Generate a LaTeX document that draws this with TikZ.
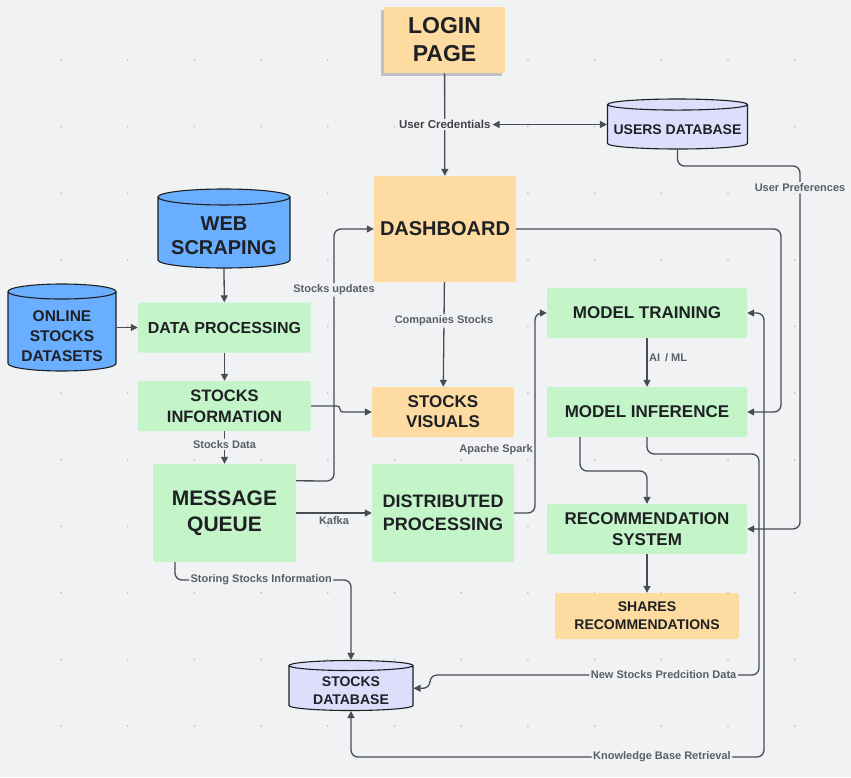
\documentclass[tikz,border=0pt]{standalone}
\usepackage{fontspec}
\setmainfont{Liberation Sans}
\usetikzlibrary{shapes.geometric,arrows.meta,shadows}
\definecolor{bg}{HTML}{F1F2F4}
\definecolor{sand}{HTML}{FEDBA1}
\definecolor{mint}{HTML}{C4F5C9}
\definecolor{sky}{HTML}{69AEFF}
\definecolor{lav}{HTML}{DDDDFC}
\definecolor{ink}{HTML}{1E2024}
\definecolor{wirec}{HTML}{474C55}
\definecolor{lblc}{HTML}{5A5F67}
\definecolor{dotc}{HTML}{B9BCC2}
\begin{document}
\begin{tikzpicture}[x=1pt, y=-1pt, >={Triangle[length=7pt,width=7pt]},
	box/.style = {rectangle, rounded corners=2pt, inner sep=0pt, align=center, text=ink},
	note/.style = {box, fill=sand},
	proc/.style = {box, fill=mint},
	db/.style = {cylinder, shape border rotate=90, draw=ink, line width=1.1pt, inner sep=0pt, anchor=shape center},
	dbtext/.style = {inner sep=0pt, align=center, text=ink},
	fs/.style 2 args = {font=\fontsize{#1}{#2}\selectfont\bfseries},
	lbl/.style = {font=\fontsize{11}{13}\selectfont\bfseries, text=lblc, inner sep=1.5pt},
	wire/.style = {draw=wirec, line width=1.3pt, rounded corners=7pt, ->}]
		\useasboundingbox (0,0) rectangle (851,777);
		\fill[bg] (0,0) rectangle (851,777);
		\foreach \i in {0,...,11}
			\foreach \j in {0,...,10}
				\fill[dotc] ({61+66.7*\i},{60+66.6*\j}) circle (0.9pt);

		\node[note, fs={23}{28}, minimum width=121pt, minimum height=66pt, rounded corners=0pt, drop shadow={shadow xshift=-3pt, shadow yshift=-3pt, opacity=0.2, fill=black}] (login) at (444.5,40) {LOGIN\\PAGE};
		\node[db, fill=lav, text width=140pt, minimum height=50pt, aspect=0.079] (users) at (677.5,124) {};
		\node[dbtext, fs={14}{17}] (usersT) at ([yshift=-6pt]users.shape center) {USERS DATABASE};
		\node[note, fs={20}{24}, minimum width=142pt, minimum height=106pt] (dash) at (445,229) {DASHBOARD};
		\node[db, fill=sky, text width=132pt, minimum height=79pt, aspect=0.121] (web) at (224,228.5) {};
		\node[dbtext, fs={20}{24}] (webT) at ([yshift=-7pt]web.shape center) {WEB\\SCRAPING};
		\node[db, fill=sky, text width=108pt, minimum height=87pt, aspect=0.139] (online) at (62,327.5) {};
		\node[dbtext, fs={15.5}{20}] (onlineT) at ([yshift=-8.5pt]online.shape center) {ONLINE\\STOCKS\\DATASETS};
		\node[proc, fs={16}{20}, minimum width=173pt, minimum height=50pt] (dataproc) at (224.5,327.5) {DATA PROCESSING};
		\node[proc, fs={16.5}{21}, minimum width=173pt, minimum height=50pt] (stinfo) at (224.5,406) {STOCKS\\INFORMATION};
		\node[proc, fs={21}{26}, minimum width=143pt, minimum height=98pt] (queue) at (224.5,513) {MESSAGE\\QUEUE};
		\node[note, fs={17}{20}, minimum width=142pt, minimum height=50pt] (visuals) at (443,412) {STOCKS\\VISUALS};
		\node[proc, fs={18}{23}, minimum width=142pt, minimum height=98pt] (dist) at (443,513) {DISTRIBUTED\\PROCESSING};
		\node[proc, fs={17}{21}, minimum width=200pt, minimum height=50pt] (train) at (647,313) {MODEL TRAINING};
		\node[proc, fs={17}{21}, minimum width=200pt, minimum height=50pt] (infer) at (647,412) {MODEL INFERENCE};
		\node[proc, fs={17}{21}, minimum width=200pt, minimum height=50pt] (recsys) at (647,529) {RECOMMENDATION\\SYSTEM};
		\node[note, fs={14}{18}, minimum width=184pt, minimum height=46pt] (shares) at (647,616) {SHARES\\RECOMMENDATIONS};
		\node[db, fill=lav, text width=124pt, minimum height=50pt, aspect=0.081] (stdb) at (351,685.5) {};
		\node[dbtext, fs={14}{18}] (stdbT) at ([yshift=-5pt]stdb.shape center) {STOCKS\\DATABASE};

		\draw[wire] (login) -- node[lbl, fill=bg, text=ink!85, font=\fontsize{11.5}{13}\selectfont\bfseries] (cred) {User Credentials} (dash);
		\draw[wire, <->] (cred) -- (cred -| users.west);
		\draw[wire] (users.south) |- (800,166) -- node[lbl, fill=bg, pos=0.06] {User Preferences} (800,529) -- (recsys.east);
		\draw[wire] (dash.east) -| (781,412) -- (infer.east);
		\draw[wire] (dash) -- node[lbl, fill=bg, pos=0.37] {Companies Stocks} (visuals);
		\draw[wire] (web.south) -- (dataproc);
		\draw[wire] (dataproc.west -| online.east) -- (dataproc.west);
		\draw[wire] (dataproc) -- (stinfo);
		\draw[wire, rounded corners=3pt] (stinfo.east) -| (340,412) -- (visuals.west);
		\draw[wire] (stinfo) -- node[lbl, fill=bg, pos=0.4] {Stocks Data} (queue);
		\draw[wire] ([yshift=-17pt]queue.north east) -- (334,481) -- node[lbl, fill=bg, pos=0.758] {Stocks updates} (334,229) -- (dash.west);
		\draw[wire] (queue.east) -- node[lbl, below, inner sep=3pt] {Kafka} (dist.west);
		\draw[wire] (dist.east) -- (535,513) -- node[lbl, left, pos=0.315] {Apache Spark} (535,313) -- (train.west);
		\draw[wire] (train) -- node[lbl, right, pos=0.39] {AI \,/ ML} (infer);
		\draw[wire] ([xshift=-67pt]infer.south) -- (580,471) -- (647,471) -- (recsys.north);
		\draw[wire] (infer.south) -- (647,454) -- (759,454) -- (759,675) -- node[lbl, fill=bg, pos=0.29] {New Stocks Predcition Data} (430,675) |- (stdb.east);
		\draw[wire, <->] (train.east) -- (764,313) -- (764,757) -- node[lbl, fill=bg, pos=0.247] {Knowledge Base Retrieval} (351,757) -- (stdb.south);
		\draw[wire] ([xshift=-49.5pt]queue.south) -- (175,580) -- node[lbl, fill=bg, pos=0.49] {Storing Stocks Information} (351,580) -- (stdb.north);
		\draw[wire] (recsys) -- (shares);

	\end{tikzpicture}
\end{document}
